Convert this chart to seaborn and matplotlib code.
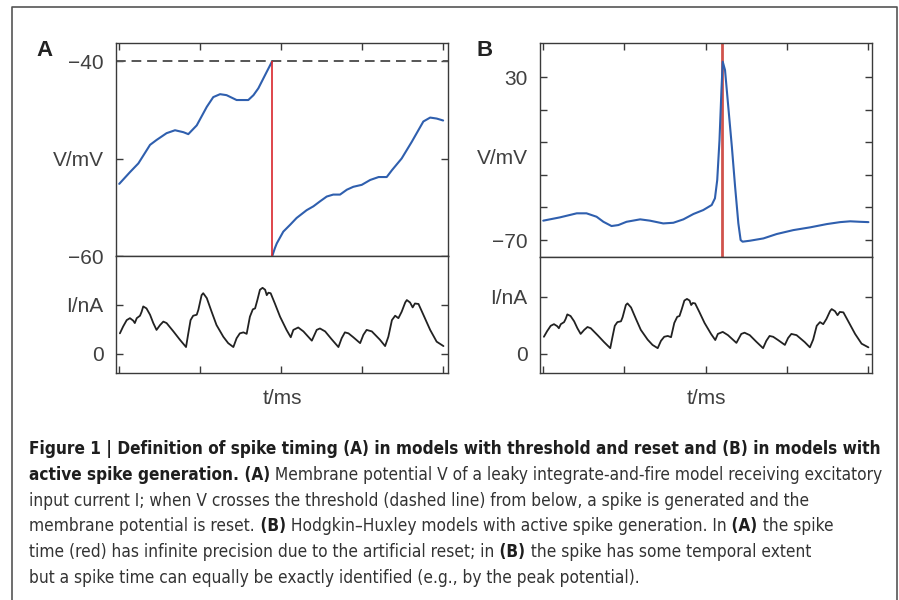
import numpy as np
import pandas as pd
import seaborn as sns
from matplotlib import pyplot as plt
from matplotlib.lines import Line2D
from matplotlib import font_manager as fm

#%%
# Panel A: leaky integrate-and-fire, V (mV) against t (ms)
t_a_pre = [0.1, 3.4, 6.0, 9.6, 11.6, 14.7, 17.3, 19.9, 21.4, 24.0, 27.1, 29.1,
           31.2, 33.2, 36.3, 39.9, 41.5, 43.0, 45.6, 47.3]
v_a_pre = [-52.6, -51.4, -50.5, -48.6, -48.1, -47.4, -47.1, -47.3, -47.5, -46.6,
           -44.7, -43.7, -43.4, -43.5, -44.0, -44.0, -43.5, -42.8, -41.1, -40.0]
t_a_post = [47.3, 48.1, 48.7, 50.7, 52.8, 54.8, 57.9, 60.0, 62.0, 64.1, 66.1, 68.2,
            70.3, 72.3, 74.9, 77.5, 80.1, 82.6, 84.2, 87.2, 90.3, 93.9, 96.0, 98.0, 100.0]
v_a_post = [-60.0, -59.2, -58.7, -57.5, -56.8, -56.1, -55.3, -54.9, -54.4, -53.9,
            -53.7, -53.7, -53.2, -52.9, -52.7, -52.2, -51.9, -51.9, -51.2, -50.0,
            -48.3, -46.2, -45.8, -45.9, -46.1]
t_spike_a = 47.3
v_thresh = -40
v_reset = -60

# input current, same trace in both panels
t_i = [0.3, 1.3, 2.4, 3.4, 4.4, 4.9, 5.5, 6.5, 7.0, 7.5,
       8.5, 9.6, 10.6, 11.6, 12.7, 13.7, 14.7, 16.8, 18.8, 20.7,
       21.4, 22.1, 22.9, 24.0, 24.5, 25.5, 26.0, 27.1, 28.6, 30.1,
       32.2, 33.7, 35.3, 36.3, 37.3, 38.4, 39.4, 40.4, 41.3, 42.0,
       42.7, 43.5, 44.3, 45.1, 45.6, 46.1, 46.8, 48.1, 49.7, 51.7,
       53.0, 53.8, 55.3, 56.9, 59.5, 61.0, 62.0, 63.6, 65.6, 67.7,
       68.7, 69.7, 70.8, 72.3, 74.4, 75.4, 76.4, 78.0, 80.5, 82.1,
       83.1, 84.2, 85.2, 86.2, 87.2, 88.3, 88.8, 89.8, 90.6, 91.3,
       92.4, 93.9, 96.0, 98.0, 100.1]
i_in = [0.42, 0.56, 0.69, 0.73, 0.68, 0.63, 0.73, 0.78, 0.86, 0.97,
        0.93, 0.80, 0.63, 0.49, 0.59, 0.66, 0.63, 0.46, 0.29, 0.14,
        0.42, 0.69, 0.78, 0.80, 0.90, 1.20, 1.24, 1.14, 0.86, 0.59,
        0.35, 0.22, 0.14, 0.32, 0.42, 0.44, 0.41, 0.76, 0.91, 0.93,
        1.10, 1.31, 1.35, 1.31, 1.20, 1.25, 1.24, 1.03, 0.76, 0.49,
        0.34, 0.49, 0.54, 0.46, 0.27, 0.49, 0.52, 0.46, 0.30, 0.14,
        0.32, 0.44, 0.42, 0.34, 0.22, 0.39, 0.49, 0.46, 0.29, 0.16,
        0.35, 0.69, 0.78, 0.73, 0.86, 1.05, 1.10, 1.05, 0.95, 1.03,
        1.02, 0.80, 0.49, 0.25, 0.16]

# Panel B: Hodgkin-Huxley
t_b = [0.1, 5.2, 10.4, 13.4, 16.5, 18.6, 21.1, 23.2, 25.7, 29.9,
       32.9, 37.0, 40.1, 43.2, 46.3, 49.3, 51.9, 52.9, 53.6, 54.3,
       54.9, 55.3, 56.0, 57.0, 58.1, 59.1, 60.1, 60.8, 61.4, 63.7,
       67.8, 71.9, 77.0, 82.2, 87.3, 91.4, 94.5, 97.5, 100.1]
v_b = [-58.1, -56.1, -53.6, -53.6, -55.7, -58.8, -61.4, -60.8, -58.8, -57.3,
       -58.1, -59.8, -59.4, -57.3, -54.0, -51.6, -48.5, -44.4, -33.2, -8.7,
       22.0, 39.4, 34.3, 11.8, -12.7, -37.3, -59.8, -70.0, -71.0, -70.4,
       -69.0, -66.3, -63.9, -62.2, -60.2, -59.0, -58.5, -58.8, -59.0]
t_spike_b = 55.2

t_ticks = [0, 25, 50, 75, 100]
va_ticks = [-60, -50, -40]
va_labels = ['\u221260', 'V/mV', '\u221240']
vb_ticks = [30, 10, -10, -30, -50, -70]
vb_labels = ['30', '', '', '', '', '\u221270']
ia_ticks = [0, 1]
ib_ticks = [0, 1.4]
i_labels = ['0', 'I/nA']

caption = [
    [("Figure 1 | Definition of spike timing (A) in models with threshold and reset and (B) in models with", True)],
    [("active spike generation. (A)", True),
     (" Membrane potential V of a leaky integrate-and-fire model receiving excitatory", False)],
    [("input current I; when V crosses the threshold (dashed line) from below, a spike is generated and the", False)],
    [("membrane potential is reset.", False), (" (B)", True),
     (" Hodgkin\u2013Huxley models with active spike generation. In", False), (" (A)", True),
     (" the spike", False)],
    [("time (red) has infinite precision due to the artificial reset; in", False), (" (B)", True),
     (" the spike has some temporal extent", False)],
    [("but a spike time can equally be exactly identified (e.g., by the peak potential).", False)],
]
# caption line lengths in the reference, px
caption_widths = [848, 854, 779, 797, 731, 716]
caption_max = 856

#%%
sns.set_theme(style='ticks')
plt.rcParams['font.family'] = ['Liberation Sans', 'DejaVu Sans']

W, H = 899, 600
fig = plt.figure(figsize=(W / 100, H / 100), dpi=100)
fig.patch.set_facecolor('white')

ink = '#3a3a3a'
blue = '#2f5fae'


def px_axes(x0, y0, x1, y1):
    return fig.add_axes([x0 / W, 1 - y1 / H, (x1 - x0) / W, (y1 - y0) / H])


def style(ax, top):
    for sp in ax.spines.values():
        sp.set_color(ink)
        sp.set_linewidth(1.0)
    ax.tick_params(direction='in', length=5, width=1.0, color=ink,
                   labelcolor='#404040', labelsize=15, pad=9)
    ax.tick_params(axis='x', top=top, bottom=not top, labelbottom=False, labeltop=False)
    ax.tick_params(axis='y', left=True, right=True)
    ax.set_xticks(t_ticks)
    ax.set_xticklabels([])
    ax.set_xlabel('')
    ax.set_ylabel('')
    ax.grid(False)


axVa = px_axes(116, 43, 448, 256)
axIa = px_axes(116, 256, 448, 373)
axVb = px_axes(540, 43, 872, 257)
axIb = px_axes(540, 257, 872, 373)

# A
sns.lineplot(x=t_a_pre, y=v_a_pre, ax=axVa, color=blue, lw=1.5, estimator=None, sort=False)
sns.lineplot(x=t_a_post, y=v_a_post, ax=axVa, color=blue, lw=1.5, estimator=None, sort=False)
axVa.axhline(v_thresh, color='#555555', lw=1.4, dashes=(5, 3))
axVa.vlines(t_spike_a, v_reset, v_thresh, color='#d9262c', lw=1.2, zorder=3)
axVa.set(xlim=(-0.9, 101.5), ylim=(-60, -38.15))
style(axVa, True)
axVa.set_yticks(va_ticks)
axVa.set_yticklabels(va_labels)

sns.lineplot(x=t_i, y=i_in, ax=axIa, color='#222222', lw=1.3, estimator=None, sort=False)
axIa.set(xlim=(-0.9, 101.5), ylim=(-0.39, 2.0))
style(axIa, False)
axIa.set_yticks(ia_ticks)
axIa.set_yticklabels(i_labels)
axIa.set_xlabel('t/ms', fontsize=15, color='#404040', va='center')
axIa.xaxis.set_label_coords(0.5, -25 / 117)

# B
sns.lineplot(x=t_b, y=v_b, ax=axVb, color=blue, lw=1.5, estimator=None, sort=False)
axVb.axvline(t_spike_b, color='#d0534c', lw=2.0, zorder=1)
axVb.set(xlim=(-0.9, 101.2), ylim=(-80.4, 50.9))
style(axVb, True)
axVb.set_yticks(vb_ticks)
axVb.set_yticklabels(vb_labels)
axVb.set_ylabel('V/mV', fontsize=15, color='#404040', rotation=0, ha='right', va='center')
axVb.yaxis.set_label_coords(-12 / 332, (257 - 158) / 214)

sns.lineplot(x=t_i, y=i_in, ax=axIb, color='#222222', lw=1.3, estimator=None, sort=False)
axIb.set(xlim=(-0.9, 101.2), ylim=(-0.47, 2.38))
style(axIb, False)
axIb.set_yticks(ib_ticks)
axIb.set_yticklabels(i_labels)
axIb.set_xlabel('t/ms', fontsize=15, color='#404040', va='center')
axIb.xaxis.set_label_coords(0.5, -25 / 116)

# panel letters
fig.text(36 / W, 1 - 51 / H, 'A', fontsize=16, fontweight='bold', color='#222222', va='center')
fig.text(477 / W, 1 - 51 / H, 'B', fontsize=16, fontweight='bold', color='#222222', va='center')

# frame round the figure
fig.add_artist(Line2D([12 / W, 12 / W, 897 / W, 897 / W], [0, 1 - 7 / H, 1 - 7 / H, 0],
                      transform=fig.transFigure, color='#555555', lw=1.2))


# caption: look for a narrow face, the reference caption is set condensed
def narrow_face(bold):
    prefs = ['liberation sans narrow', 'noto sans', 'dejavu sans', 'roboto', 'open sans']
    found = {}
    for e in fm.fontManager.ttflist:
        key = (e.name + ' ' + e.fname.split('/')[-1]).lower()
        if not ('condensed' in key or 'narrow' in key):
            continue
        if any(s in key for s in ('semi', 'extra', 'ultra', 'italic', 'oblique', 'light',
                                  'thin', 'black', 'medium', 'mono')):
            continue
        if ('bold' in key) != bold:
            continue
        for rank, p in enumerate(prefs):
            if p in key:
                found.setdefault(rank, e.fname)
    if found:
        return fm.FontProperties(fname=found[min(found)])
    return fm.FontProperties(family='Liberation Sans', weight='bold' if bold else 'normal')


face = {True: narrow_face(True), False: narrow_face(False)}
renderer = fig.canvas.get_renderer()


def text_width(text, bold, size):
    fp = face[bold].copy()
    fp.set_size(size)
    t = fig.text(0, 0, text, fontproperties=fp)
    w = t.get_window_extent(renderer).width
    t.remove()
    return w


# regular runs sized on the all-regular lines, bold runs on line 1,
# then bold shrunk where a mixed line would run past the frame
size = {False: 10 * min(caption_widths[k] / text_width(caption[k][0][0], False, 10) for k in (2, 5))}
fits = [10 * caption_widths[0] / text_width(caption[0][0][0], True, 10)]
for line in caption[1:]:
    wr = sum(text_width(s, False, size[False]) for s, b in line if not b)
    wb = sum(text_width(s, True, 10) for s, b in line if b)
    if wb > 0:
        fits.append(10 * (caption_max - wr) / wb)
size[True] = min(fits)

for k, line in enumerate(caption):
    x = 29
    y = 449 + 25.8 * k
    for text, bold in line:
        fp = face[bold].copy()
        fp.set_size(size[bold])
        t = fig.text(x / W, 1 - y / H, text, fontproperties=fp,
                     color='#1e1e1e' if bold else '#333333', va='center', ha='left')
        x += t.get_window_extent(renderer).width

plt.savefig('out.png', dpi=100)
